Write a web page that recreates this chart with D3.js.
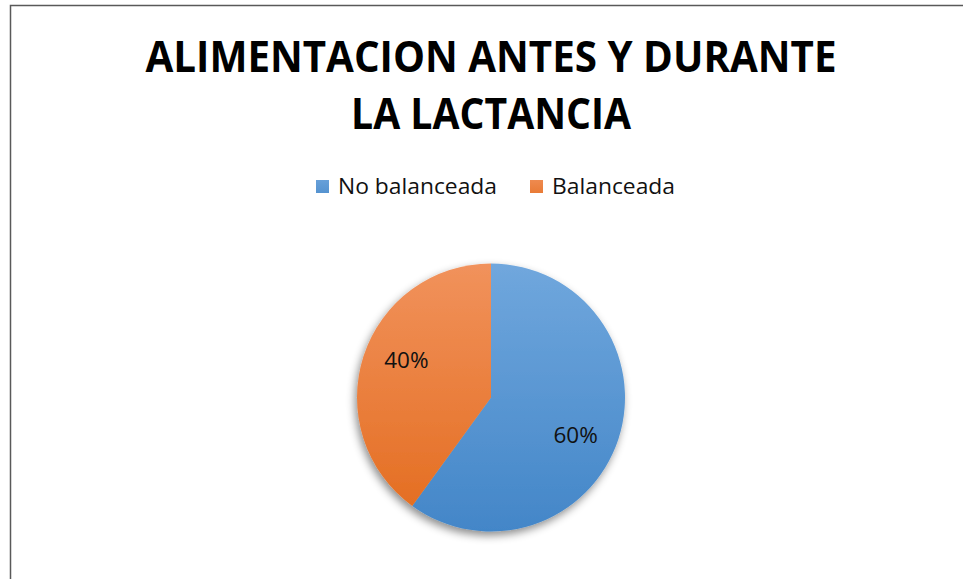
<!DOCTYPE html>
<html>
<head>
<meta charset="utf-8">
<script src="https://cdn.jsdelivr.net/npm/d3@7"></script>
<style>
  html, body { margin: 0; padding: 0; background: #ffffff; }
  svg { display: block; }
</style>
</head>
<body>
<div id="chart"></div>
<script>
// chart data
let titleLines  = ["ALIMENTACION ANTES Y DURANTE", "LA LACTANCIA"];
let categories  = ["No balanceada", "Balanceada"];
let values      = [60, 40];
let colorsTop   = ["#70a7dd", "#f1925c"];
let colorsBot   = ["#4386c8", "#e36b1d"];

let W = 963, H = 579;
let cx = 491, cy = 397.5, R = 134;
let fontFam = "'Open Sans', 'DejaVu Sans', sans-serif";

let svg = d3.select("#chart").append("svg")
    .attr("width", W)
    .attr("height", H);

let defs = svg.append("defs");

// soft shadow like the office pie
let shadow = defs.append("filter")
    .attr("id", "pieShadow")
    .attr("x", "-20%").attr("y", "-20%")
    .attr("width", "140%").attr("height", "140%");
shadow.append("feDropShadow")
    .attr("dx", -2).attr("dy", 4)
    .attr("stdDeviation", 4)
    .attr("flood-color", "#000000")
    .attr("flood-opacity", 0.45);

// pie gradients live in the pie group's space (centred on 0,0)
categories.forEach((c, i) => {
    let g = defs.append("linearGradient")
        .attr("id", "grad" + i)
        .attr("gradientUnits", "userSpaceOnUse")
        .attr("x1", 0).attr("y1", -R)
        .attr("x2", 0).attr("y2", R);
    g.append("stop").attr("offset", "0%").attr("stop-color", colorsTop[i]);
    g.append("stop").attr("offset", "100%").attr("stop-color", colorsBot[i]);

    let lg = defs.append("linearGradient")
        .attr("id", "legGrad" + i)
        .attr("x1", 0).attr("y1", 0)
        .attr("x2", 0).attr("y2", 1);
    lg.append("stop").attr("offset", "0%").attr("stop-color", d3.interpolateRgb(colorsTop[i], colorsBot[i])(0.2));
    lg.append("stop").attr("offset", "100%").attr("stop-color", d3.interpolateRgb(colorsTop[i], colorsBot[i])(0.6));
});

// chart area border (right / bottom edges fall outside the picture)
svg.append("rect")
    .attr("x", 10.5)
    .attr("y", 5.5)
    .attr("width", W + 20)
    .attr("height", H + 20)
    .attr("fill", "#ffffff")
    .attr("stroke", "#595959")
    .attr("stroke-width", 1.5);

// title
let titleLen = [691, 280];
svg.append("g")
    .attr("font-family", fontFam)
    .attr("font-weight", "bold")
    .attr("font-size", 43)
    .attr("text-anchor", "middle")
    .attr("fill", "#000000")
    .selectAll("text")
    .data(titleLines)
    .enter()
    .append("text")
        .attr("x", cx)
        .attr("y", (d, i) => 72 + i * 57)
        .attr("textLength", (d, i) => titleLen[i])
        .attr("lengthAdjust", "spacingAndGlyphs")
        .text(d => d);

// legend
let legend = svg.append("g")
    .attr("font-family", fontFam)
    .attr("font-size", 22)
    .attr("fill", "#111111");

let legX = [316, 530];
let legLen = [159, 123];
let leg = legend.selectAll("g")
    .data(categories)
    .enter()
    .append("g")
        .attr("transform", (d, i) => "translate(" + legX[i] + ",180)");

leg.append("rect")
    .attr("width", 13)
    .attr("height", 13)
    .attr("fill", (d, i) => "url(#legGrad" + i + ")");

leg.append("text")
    .attr("x", 22)
    .attr("y", 14)
    .attr("textLength", (d, i) => legLen[i])
    .attr("lengthAdjust", "spacingAndGlyphs")
    .text(d => d);

// pie
let pie = d3.pie().sort(null).value(d => d);
let arcs = pie(values);
let arc = d3.arc().innerRadius(0).outerRadius(R);

let pieG = svg.append("g")
    .attr("transform", "translate(" + cx + "," + cy + ")");

pieG.append("g")
    .attr("filter", "url(#pieShadow)")
    .selectAll("path")
    .data(arcs)
    .enter()
    .append("path")
        .attr("d", arc)
        .attr("fill", (d, i) => "url(#grad" + i + ")");

let total = d3.sum(values);
let labR = R * 0.69;
pieG.append("g")
    .attr("font-family", fontFam)
    .attr("font-size", 22.5)
    .attr("fill", "#111111")
    .attr("text-anchor", "middle")
    .selectAll("text")
    .data(arcs)
    .enter()
    .append("text")
        .attr("transform", d => {
            // office places the labels a little clockwise of the mid angle
            let a = (d.startAngle + d.endAngle) / 2 + 0.1;
            let x = Math.sin(a) * labR;
            let y = -Math.cos(a) * labR;
            return "translate(" + x + "," + (y + 8) + ")";
        })
        .text(d => Math.round(d.value / total * 100) + "%");
</script>
</body>
</html>
